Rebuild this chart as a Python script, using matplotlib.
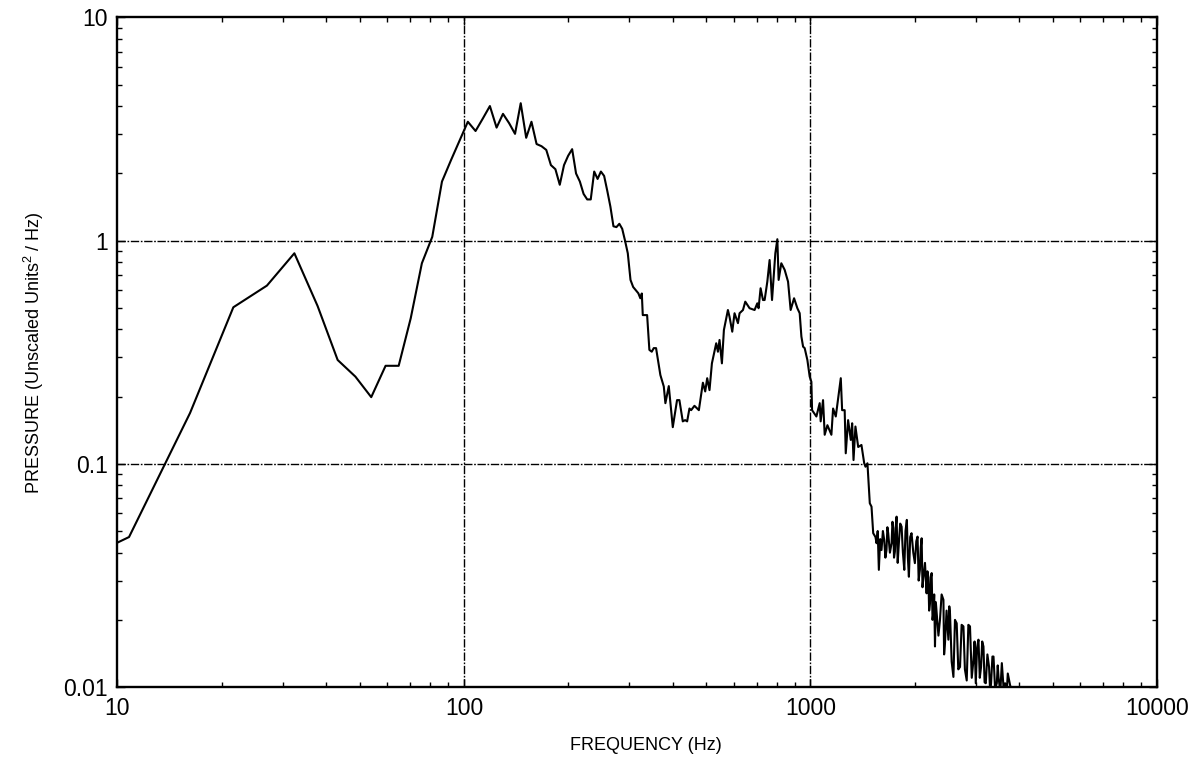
import matplotlib
matplotlib.use("Agg")
import matplotlib.pyplot as plt
from matplotlib.ticker import LogLocator, FixedLocator, FixedFormatter, NullFormatter

plt.rcParams['font.family'] = ['Liberation Sans', 'DejaVu Sans']
plt.rcParams['mathtext.fontset'] = 'custom'
plt.rcParams['mathtext.rm'] = 'Liberation Sans'
plt.rcParams['mathtext.default'] = 'regular'

# spectrum: frequency (Hz) and pressure (unscaled units^2 / Hz)
freq_hz = [5.4, 10.8, 16.2, 21.6, 27.0, 32.4, 37.8, 43.2, 48.6, 54.0,
           59.4, 64.8, 70.2, 75.6, 81.0, 86.4, 91.8, 97.2, 102.6, 108.0,
           113.4, 118.8, 124.2, 129.6, 135.0, 140.4, 145.8, 151.2, 156.6, 162.0,
           167.4, 172.8, 178.2, 183.6, 189.0, 194.4, 199.8, 205.2, 210.6, 216.0,
           221.4, 226.8, 232.2, 237.6, 243.0, 248.4, 253.8, 259.2, 264.6, 270.0,
           275.4, 280.8, 286.2, 291.6, 297.0, 302.4, 307.8, 318.6, 322.8, 326.0,
           328.1, 337.7, 342.8, 348.3, 352.9, 358.4, 368.8, 377.3, 381.3, 390.0,
           400.5, 412.0, 418.5, 428.0, 434.7, 440.6, 447.4, 452.5, 462.5, 476.3,
           489.2, 496.8, 503.4, 511.2, 519.4, 534.5, 540.6, 546.4, 555.1, 562.5,
           577.7, 583.9, 594.6, 603.7, 617.5, 624.2, 638.5, 648.3, 667.2, 689.7,
           702.2, 708.3, 717.8, 729.4, 737.3, 750.6, 762.1, 774.5, 791.7, 802.3,
           809.2, 823.8, 842.3, 861.5, 876.5, 896.6, 916.5, 930.7, 941.3, 952.0,
           962.1, 979.5, 994.7, 1006, 1010.6, 1040, 1063, 1070, 1087, 1099,
           1119, 1149, 1162, 1183, 1202, 1223, 1234, 1255, 1264, 1284,
           1307, 1319, 1331, 1348, 1373, 1403, 1429, 1441, 1460, 1483,
           1500, 1517, 1540, 1551, 1563, 1575, 1589, 1603, 1618, 1632,
           1645, 1657, 1667, 1676, 1695, 1714, 1724, 1733, 1742, 1752,
           1762, 1772, 1785, 1799, 1815, 1832, 1848, 1865, 1880, 1897,
           1910, 1923, 1940, 1957, 1980, 2001, 2020, 2037, 2052, 2069,
           2080, 2093, 2105, 2116, 2140, 2163, 2175, 2188, 2200, 2212,
           2225, 2237, 2250, 2262, 2275, 2287, 2300, 2313, 2340, 2364,
           2390, 2419, 2430, 2444, 2470, 2500, 2515, 2527, 2555, 2585,
           2612, 2642, 2670, 2701, 2730, 2763, 2790, 2824, 2855, 2886,
           2920, 2953, 2975, 2999, 3025, 3053, 3080, 3106, 3130, 3156,
           3180, 3205, 3240, 3276, 3300, 3320, 3350, 3374, 3410, 3449,
           3470, 3488, 3530, 3566, 3606, 3645, 3680, 3710, 3767, 3900]
pressure = [0.028, 0.047, 0.169, 0.503, 0.629, 0.878, 0.51, 0.292, 0.246, 0.199,
            0.275, 0.275, 0.449, 0.792, 1.04, 1.84, 2.30, 2.82, 3.41, 3.10,
            3.53, 4.01, 3.21, 3.70, 3.36, 3.01, 4.13, 2.89, 3.41, 2.71,
            2.65, 2.55, 2.18, 2.09, 1.78, 2.18, 2.40, 2.57, 2.00, 1.84,
            1.62, 1.53, 1.53, 2.04, 1.89, 2.04, 1.95, 1.67, 1.42, 1.16,
            1.15, 1.19, 1.13, 1.00, 0.878, 0.667, 0.62, 0.581, 0.552, 0.58,
            0.464, 0.464, 0.324, 0.318, 0.330, 0.330, 0.250, 0.222, 0.187, 0.223,
            0.146, 0.193, 0.193, 0.155, 0.157, 0.155, 0.177, 0.174, 0.182, 0.174,
            0.231, 0.211, 0.242, 0.214, 0.282, 0.347, 0.318, 0.359, 0.282, 0.398,
            0.489, 0.456, 0.391, 0.473, 0.427, 0.473, 0.489, 0.533, 0.498, 0.489,
            0.524, 0.498, 0.612, 0.542, 0.542, 0.655, 0.819, 0.542, 0.878, 1.015,
            0.667, 0.792, 0.74, 0.655, 0.489, 0.552, 0.498, 0.473, 0.372, 0.335,
            0.330, 0.292, 0.246, 0.233, 0.174, 0.163, 0.187, 0.155, 0.193, 0.135,
            0.149, 0.135, 0.177, 0.163, 0.197, 0.242, 0.174, 0.174, 0.1115, 0.157,
            0.128, 0.152, 0.104, 0.147, 0.119, 0.1215, 0.1006, 0.0971, 0.1006, 0.0666,
            0.0643, 0.0489, 0.047, 0.0441, 0.050, 0.0335, 0.046, 0.0411, 0.050, 0.0456,
            0.038, 0.0411, 0.052, 0.0489, 0.040, 0.0441, 0.055, 0.0515, 0.038, 0.0404,
            0.052, 0.058, 0.036, 0.0441, 0.054, 0.0523, 0.040, 0.0335, 0.050, 0.0561,
            0.038, 0.0312, 0.047, 0.0489, 0.040, 0.0359, 0.045, 0.0472, 0.030, 0.0335,
            0.042, 0.0464, 0.028, 0.0306, 0.036, 0.0263, 0.033, 0.0312, 0.022, 0.0237,
            0.031, 0.0324, 0.020, 0.0214, 0.026, 0.0152, 0.024, 0.0214, 0.017, 0.020,
            0.026, 0.0246, 0.014, 0.0157, 0.022, 0.0163, 0.023, 0.0214, 0.013, 0.0111,
            0.020, 0.0193, 0.012, 0.0123, 0.019, 0.0187, 0.012, 0.0107, 0.019, 0.0187,
            0.011, 0.0132, 0.016, 0.0104, 0.015, 0.0163, 0.011, 0.0123, 0.016, 0.0152,
            0.0105, 0.0104, 0.014, 0.0123, 0.0095, 0.0104, 0.0137, 0.0137, 0.0098, 0.0104,
            0.0125, 0.0111, 0.0095, 0.0128, 0.0100, 0.0104, 0.0092, 0.0115, 0.0102, 0.0085]

x_ticks = [10, 100, 1000, 10000]
x_labels = ['10', '100', '1000', '10000']
y_ticks = [0.01, 0.1, 1, 10]
y_labels = ['0.01', '0.1', '1', '10']

fig = plt.figure(figsize=(11.96, 7.73), dpi=100)
ax = fig.add_axes([0.0982, 0.1112, 0.8692, 0.8662])

ax.plot(freq_hz, pressure, color='black', linewidth=1.5)
ax.set_xscale('log')
ax.set_yscale('log')
ax.set_xlim(10, 10000)
ax.set_ylim(0.01, 10)

dashdot = (0, (6, 1.2, 1.2, 1.2))
for xv in [100, 1000]:
    ax.axvline(xv, color='black', linewidth=1.0, linestyle=dashdot, zorder=0)
for yv in [0.1, 1]:
    ax.axhline(yv, color='black', linewidth=1.0, linestyle=dashdot, zorder=0)

ax.xaxis.set_major_locator(FixedLocator(x_ticks))
ax.xaxis.set_major_formatter(FixedFormatter(x_labels))
ax.yaxis.set_major_locator(FixedLocator(y_ticks))
ax.yaxis.set_major_formatter(FixedFormatter(y_labels))
ax.xaxis.set_minor_locator(LogLocator(base=10, subs=range(2, 10)))
ax.yaxis.set_minor_locator(LogLocator(base=10, subs=range(2, 10)))
ax.xaxis.set_minor_formatter(NullFormatter())
ax.yaxis.set_minor_formatter(NullFormatter())

ax.tick_params(which='both', direction='in', top=True, right=True, colors='black')
ax.tick_params(which='major', length=6, width=1, labelsize=16.5, pad=7)
ax.tick_params(which='minor', length=3.5, width=1)
for s in ax.spines.values():
    s.set_linewidth(1.7)

ax.set_xlabel('FREQUENCY (Hz)', fontsize=13, labelpad=12)
ax.xaxis.set_label_coords(0.508, -0.075)
ax.set_ylabel('PRESSURE (Unscaled Units$^{2}$ / Hz)', fontsize=13, labelpad=12)

plt.savefig('out.png', dpi=100)
